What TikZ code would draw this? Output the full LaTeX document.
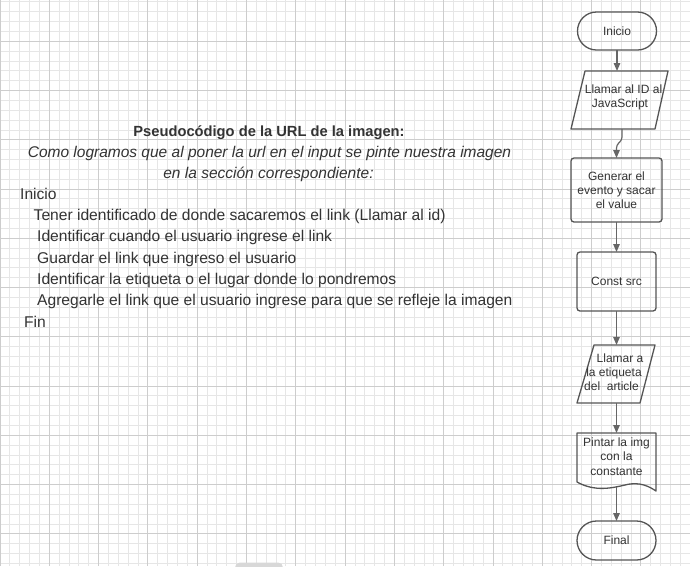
\documentclass[tikz,border=0pt]{standalone}
\usepackage{fontspec}
\setmainfont{Liberation Sans}
\usetikzlibrary{arrows.meta,calc}
\definecolor{gridminor}{HTML}{E6E6E6}
\definecolor{gridmajor}{HTML}{CDCDCD}
\definecolor{shapeline}{HTML}{555555}
\definecolor{connline}{HTML}{666666}
\definecolor{txt}{HTML}{333333}
\definecolor{blobgray}{HTML}{D8D8D8}
\begin{document}
\begin{tikzpicture}[x=1pt,y=-1pt,
  shp/.style={draw=shapeline,line width=1.3pt},
  conn/.style={draw=connline,line width=1.2pt,-{Triangle[length=8pt,width=6.5pt]}},
  ftext/.style={text=txt,font=\fontsize{12}{14.2}\selectfont,align=center,inner sep=0pt,outer sep=0pt},
  boxn/.style={inner sep=0pt,outer sep=0pt},
  ltext/.style={text=txt,font=\fontsize{15.6}{18}\selectfont,anchor=base west,inner sep=0pt}]
\useasboundingbox (0,0) rectangle (690,566);
\clip (0,0) rectangle (690,566);
\fill[white] (0,0) rectangle (690,566);
% grid
\foreach \i in {0,...,70}{\pgfmathsetmacro\xx{9.86*\i}\draw[gridminor,line width=0.9pt] (\xx,0)--(\xx,566);}
\foreach \j in {0,...,57}{\pgfmathsetmacro\yy{1.9+9.85*\j}\draw[gridminor,line width=0.9pt] (0,\yy)--(690,\yy);}
\foreach \i in {0,...,14}{\pgfmathsetmacro\xx{49.3*\i}\draw[gridmajor,line width=0.9pt] (\xx,0)--(\xx,566);}
\foreach \j in {0,...,11}{\pgfmathsetmacro\yy{41.3+49.25*\j}\draw[gridmajor,line width=0.9pt] (0,\yy)--(690,\yy);}
\fill[blobgray,rounded corners=5pt] (235,562.5) rectangle (283,580);

% left text
\node[text=txt,font=\fontsize{14.7}{17}\selectfont\bfseries,anchor=base,inner sep=0pt] (title) at (269,136) {Pseudocódigo de la URL de la imagen:};
\node[text=txt,font=\fontsize{15.5}{18}\selectfont\itshape,anchor=base,inner sep=0pt] (sub1) at (269.5,157) {Como logramos que al poner la url en el input se pinte nuestra imagen};
\node[text=txt,font=\fontsize{15.5}{18}\selectfont\itshape,anchor=base,inner sep=0pt] (sub2) at (268.5,178) {en la sección correspondiente:};
\node[ltext] (l1) at (20,199) {Inicio};
\node[ltext] (l2) at (33.5,220) {Tener identificado de donde sacaremos el link (Llamar al id)};
\node[ltext] (l3) at (37,241) {Identificar cuando el usuario ingrese el link};
\node[ltext] (l4) at (37,263) {Guardar el link que ingreso el usuario};
\node[ltext] (l5) at (37,284) {Identificar la etiqueta o el lugar donde lo pondremos};
\node[ltext] (l6) at (37,305) {Agregarle el link que el usuario ingrese para que se refleje la imagen};
\node[ltext] (l7) at (24,327) {Fin};

% flowchart
\node[shp,ftext,minimum width=79pt,minimum height=38pt,rounded corners=19pt] (ini) at (617,31) {Inicio};

\node[boxn,minimum width=97pt,minimum height=58pt] (p1) at (619.5,100) {};
\draw[shp,line join=round] ([xshift=14pt]p1.north west) -- (p1.north east) -- ([xshift=-13pt]p1.south east) -- (p1.south west) -- cycle;
\node[ftext] (p1t) at (620,97.5) {\hspace*{7pt}Llamar al ID al\\JavaScript};

\node[shp,ftext,minimum width=91pt,minimum height=64pt,rounded corners=3pt] (g) at (616.5,190) {Generar el\\evento y sacar\\el value};

\node[shp,ftext,minimum width=79pt,minimum height=59pt,rounded corners=3pt] (c) at (616.5,281.5) {Const src};

\node[boxn,minimum width=78pt,minimum height=58pt] (p2) at (616,374) {};
\draw[shp,line join=round] ([xshift=17pt]p2.north west) -- (p2.north east) -- ([xshift=-15pt]p2.south east) -- (p2.south west) -- cycle;
\node[ftext] (p2t) at (614,372.5) {\hspace*{12pt}Llamar a\\la etiqueta\\del\ \ article\hspace*{5pt}};

\node[boxn,minimum width=79pt,minimum height=54pt] (d) at (616.5,460) {};
\draw[shp,line join=round] ([yshift=5pt]d.south west) -- (d.north west) -- (d.north east) -- ([yshift=-4pt]d.south east)
  .. controls (650,487) and (640,481) .. (625,485)
  .. controls (612,488) and (595,492) .. ([yshift=5pt]d.south west) -- cycle;
\node[ftext] (dt) at (616.5,456.5) {Pintar la img\\con la\\constante};

\node[shp,ftext,minimum width=79pt,minimum height=39pt,rounded corners=19.5pt] (fin) at (616.5,540.5) {Final};

% connectors
\draw[conn] (ini.south) -- (ini.south |- p1.north);
\draw[conn,rounded corners=3pt] ([xshift=2.5pt]p1.south) -- ++(0,11) -- ++(-5.5,5) -- (g.north);
\draw[conn] (g.south) -- (c.north);
\draw[conn] (c.south) -- (c.south |- p2.north);
\draw[conn] (c.south |- p2.south) -- (c.south |- d.north);
\draw[conn] (d.south) -- (fin.north);
\end{tikzpicture}
\end{document}
